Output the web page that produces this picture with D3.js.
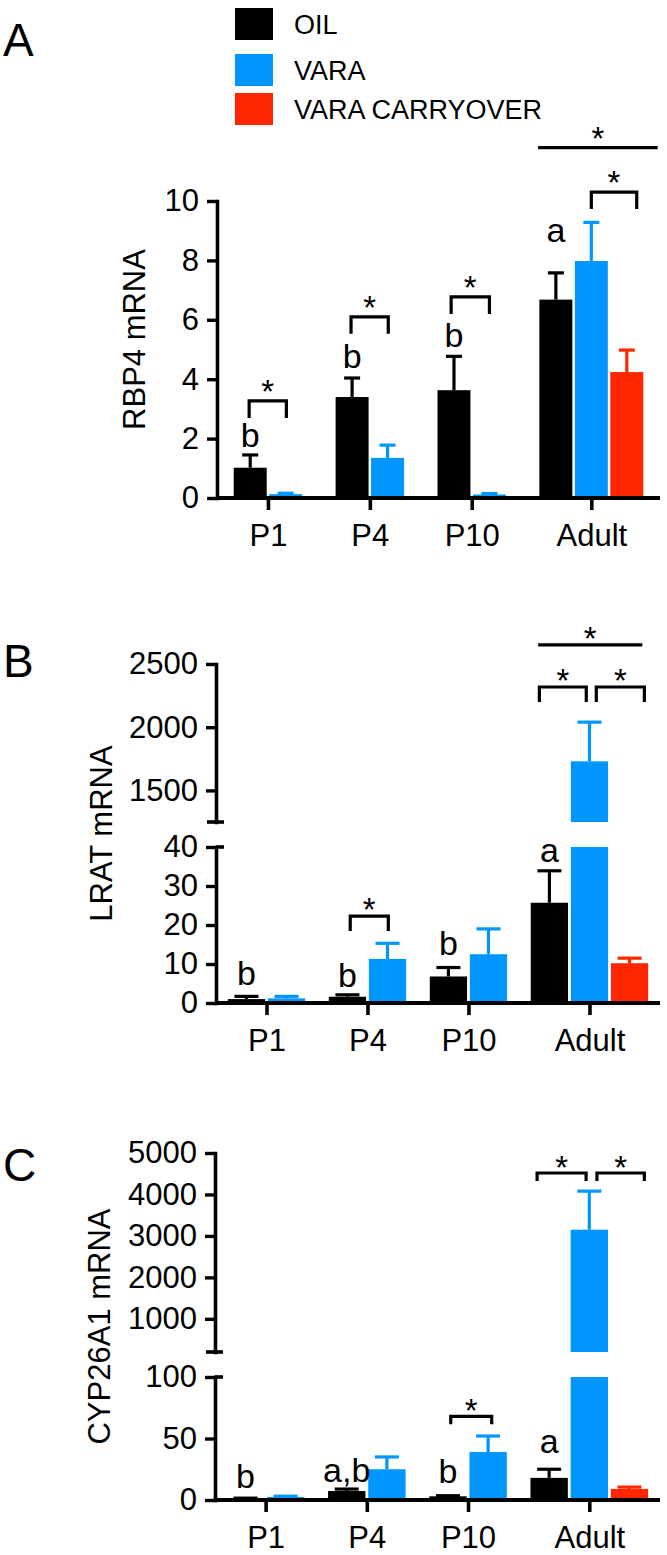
<!DOCTYPE html>
<html><head><meta charset="utf-8">
<script src="https://cdn.jsdelivr.net/npm/d3@7"></script>
<style>
body{margin:0;background:#fff}
svg{display:block}
text{font-family:"Liberation Sans",Arial,Helvetica,sans-serif;fill:#000}
</style>
</head><body>
<svg id="chart" width="667" height="1555"></svg>
<script>
// ---------- data ----------
const categories = ["P1", "P4", "P10", "Adult"];
const seriesNames = ["OIL", "VARA", "VARA CARRYOVER"];
const seriesColors = ["#000000", "#0096ff", "#ff2600"];

// Panel A – RBP4 mRNA
const rbp4Oil = [1.02, 3.40, 3.63, 6.68];
const rbp4OilSem = [0.43, 0.64, 1.14, 0.90];
const rbp4Vara = [0.13, 1.35, 0.12, 7.98];
const rbp4VaraSem = [0.03, 0.43, 0.03, 1.30];
const rbp4Carry = [null, null, null, 4.24];
const rbp4CarrySem = [null, null, null, 0.74];
const rbp4Ticks = [0, 2, 4, 6, 8, 10];

// Panel B – LRAT mRNA
const lratOil = [1.0, 1.6, 6.8, 25.7];
const lratOilSem = [0.7, 0.5, 2.3, 8.2];
const lratVara = [1.2, 11.3, 12.5, 1730];
const lratVaraSem = [0.5, 4.0, 6.5, 310];
const lratCarry = [null, null, null, 10.2];
const lratCarrySem = [null, null, null, 1.3];
const lratTicksLow = [0, 10, 20, 30, 40];
const lratTicksHigh = [1500, 2000, 2500];

// Panel C – CYP26A1 mRNA
const cypOil = [1.0, 7.3, 3.0, 18];
const cypOilSem = [0.5, 1.6, 0.5, 7];
const cypVara = [2.5, 25, 39, 3150];
const cypVaraSem = [0.6, 10, 13, 930];
const cypCarry = [null, null, null, 9];
const cypCarrySem = [null, null, null, 1.5];
const cypTicksLow = [0, 50, 100];
const cypTicksHigh = [1000, 2000, 3000, 4000, 5000];

// significance letters: [category, label, y value]
const rbp4Letters = [[0, "b", 1.72], [1, "b", 4.38], [2, "b", 5.08], [3, "a", 8.62]];
const lratLetters = [[0, "b", 4.6], [1, "b", 4.1], [2, "b", 12.3], [3, "a", 36.2]];
const cypLetters = [[0, "b", 9.7], [1, "a,b", 14.6], [2, "b", 13.8], [3, "a", 38]];

// brackets: [category, from slot, to slot, y value, axis segment, has legs]
const rbp4Brackets = [[0, 0.47, 1.52, 3.27, 0, 1], [1, 0.47, 1.52, 6.1, 0, 1], [2, 0.42, 1.5, 6.77, 0, 1],
                      [3, 1.5, 2.78, 10.3, 0, 1], [3, 0, 3.37, 11.8, 0, 0]];
const lratBrackets = [[1, 0.57, 1.52, 22.3, 0, 1], [3, 0.25, 1.42, 2318, 1, 1], [3, 1.67, 2.87, 2318, 1, 1],
                      [3, 0.22, 2.82, 2651, 1, 0]];
const cypBrackets = [[2, 0.57, 1.59, 68, 0, 1], [3, 0.2, 1.42, 4518, 1, 1], [3, 1.69, 2.87, 4518, 1, 1]];

// ---------- drawing ----------
const svg = d3.select("#chart");

function drawPanel(p) {
  const g = svg.append("g");
  const series = p.series;
  const sizes = categories.map((c, i) => series.filter(s => s.mean[i] != null).length);
  const starts = [];
  let u = p.gap / 2;
  sizes.forEach(n => { starts.push(u); u += n + p.gap; });
  const total = u - p.gap / 2;
  const xu = d3.scaleLinear().domain([0, total]).range(p.xRange);
  const segs = p.segments.map(s => Object.assign({}, s, {y: d3.scaleLinear().domain(s.domain).range(s.range)}));
  const axisX = p.xRange[0];
  const y0 = segs[0].range[0];

  // bars
  categories.forEach((c, i) => {
    let k = 0;
    series.forEach(s => {
      const m = s.mean[i];
      if (m == null) return;
      const bx0 = xu(starts[i] + k + p.pad), bx1 = xu(starts[i] + k + 1 - p.pad);
      const cx = (bx0 + bx1) / 2;
      segs.forEach(seg => {
        if (m > seg.domain[0]) {
          const top = Math.min(m, seg.domain[1]);
          g.append("rect").attr("x", bx0).attr("width", bx1 - bx0)
            .attr("y", seg.y(top)).attr("height", seg.y(seg.domain[0]) - seg.y(top))
            .attr("fill", s.color);
        }
      });
      const seg = segs.find(sg => m >= sg.domain[0] && m <= sg.domain[1]);
      const e = m + s.sem[i];
      g.append("line").attr("x1", cx).attr("x2", cx).attr("y1", seg.y(m)).attr("y2", seg.y(e))
        .attr("stroke", s.color).attr("stroke-width", 3.2);
      g.append("line").attr("x1", cx - p.capW / 2).attr("x2", cx + p.capW / 2)
        .attr("y1", seg.y(e)).attr("y2", seg.y(e)).attr("stroke", s.color).attr("stroke-width", 3.2);
      k++;
    });
  });

  // y axes
  segs.forEach((seg, si) => {
    const ax = g.append("g").attr("transform", `translate(${axisX},0)`)
      .call(d3.axisLeft(seg.y).tickValues(seg.ticks).tickFormat(d3.format("d"))
        .tickSize(10).tickPadding(8).tickSizeOuter(0));
    ax.attr("font-family", null).attr("font-size", null);
    ax.select(".domain").attr("stroke-width", 3.6).attr("stroke-linecap", "square");
    ax.selectAll(".tick line").attr("stroke-width", 3.4);
    ax.selectAll(".tick text").style("font-size", "31px");
    if (segs.length > 1) {
      // break ends: short caps
      const yb = si === 0 ? seg.y(seg.domain[1]) : seg.y(seg.domain[0]);
      g.append("line").attr("x1", axisX - (si === 0 ? 0 : 9)).attr("x2", axisX + 8)
        .attr("y1", yb).attr("y2", yb).attr("stroke", "#000").attr("stroke-width", 3.6);
    }
  });

  // x axis
  const centers = categories.map((c, i) => xu(starts[i] + sizes[i] / 2));
  const xo = d3.scaleOrdinal().domain(categories).range(centers);
  const xa = g.append("g").attr("transform", `translate(0,${y0})`)
    .call(d3.axisBottom(xo).tickSize(12).tickPadding(14).tickSizeOuter(0));
  xa.select(".domain").remove();
  xa.attr("font-family", null).attr("font-size", null);
  xa.selectAll(".tick line").attr("stroke-width", 3.6);
  xa.selectAll(".tick text").style("font-size", "31px");
  g.append("line").attr("x1", axisX).attr("x2", p.xRange[1]).attr("y1", y0).attr("y2", y0)
    .attr("stroke", "#000").attr("stroke-width", 3.8);

  // y label
  const top = segs[segs.length - 1].range[1];
  g.append("text").attr("transform", `translate(${p.yLabelX},${(top + y0) / 2 + p.yLabelShift}) rotate(-90)`)
    .attr("text-anchor", "middle").style("font-size", "31px").text(p.yLabel);

  // panel letter
  g.append("text").attr("x", 3).attr("y", p.letterY).style("font-size", "46px").text(p.letter);

  // significance letters
  p.letters.forEach(([ci, t, v]) => {
    g.append("text").attr("x", xu(starts[ci] + 0.5)).attr("y", segs[0].y(v))
      .attr("text-anchor", "middle").style("font-size", "34px").text(t);
  });

  // brackets and stars
  p.brackets.forEach(([ci, s0, s1, v, si, legs]) => {
    const yy = segs[si].y(v);
    const x0 = xu(starts[ci] + s0), x1 = xu(starts[ci] + s1);
    const leg = legs ? p.leg : 0;
    g.append("path").attr("d", `M${x0},${yy + leg}V${yy}H${x1}V${yy + leg}`)
      .attr("fill", "none").attr("stroke", "#000").attr("stroke-width", 3.2);
    g.append("text").attr("x", (x0 + x1) / 2).attr("y", yy + p.starDy)
      .attr("text-anchor", "middle").style("font-size", "33px").text("*");
  });
}

function mk(means, sems) {
  return means.map((m, i) => ({mean: m, sem: sems[i], color: seriesColors[i]}));
}

drawPanel({
  series: mk([rbp4Oil, rbp4Vara, rbp4Carry], [rbp4OilSem, rbp4VaraSem, rbp4CarrySem]),
  xRange: [217, 660], gap: 0.873, pad: 0.035, capW: 16, leg: 17, starDy: 2,
  segments: [{domain: [0, 10], range: [498, 201], ticks: rbp4Ticks}],
  yLabel: "RBP4 mRNA", yLabelX: 145, yLabelShift: -10, letter: "A", letterY: 56,
  letters: rbp4Letters, brackets: rbp4Brackets
});

drawPanel({
  series: mk([lratOil, lratVara, lratCarry], [lratOilSem, lratVaraSem, lratCarrySem]),
  xRange: [216, 660], gap: 0.52, pad: 0.035, capW: 24, leg: 15, starDy: 5,
  segments: [{domain: [0, 40], range: [1003, 847], ticks: lratTicksLow},
             {domain: [1250, 2500], range: [822, 664], ticks: lratTicksHigh}],
  yLabel: "LRAT mRNA", yLabelX: 112, yLabelShift: 0, letter: "B", letterY: 677,
  letters: lratLetters, brackets: lratBrackets
});

drawPanel({
  series: mk([cypOil, cypVara, cypCarry], [cypOilSem, cypVaraSem, cypCarrySem]),
  xRange: [215, 660], gap: 0.52, pad: 0.035, capW: 24, leg: 8, starDy: 6,
  segments: [{domain: [0, 100], range: [1500, 1377], ticks: cypTicksLow},
             {domain: [200, 5000], range: [1352, 1153], ticks: cypTicksHigh}],
  yLabel: "CYP26A1 mRNA", yLabelX: 110, yLabelShift: 0, letter: "C", letterY: 1181,
  letters: cypLetters, brackets: cypBrackets
});

// legend
const legend = svg.append("g");
const legendTops = [8, 54, 93];
seriesNames.forEach((n, i) => {
  legend.append("rect").attr("x", 235).attr("y", legendTops[i]).attr("width", 38).attr("height", 32)
    .attr("fill", seriesColors[i]);
  legend.append("text").attr("x", 294).attr("y", legendTops[i] + 16).attr("dy", "0.36em")
    .style("font-size", "27px").text(n);
});
</script>
</body></html>
